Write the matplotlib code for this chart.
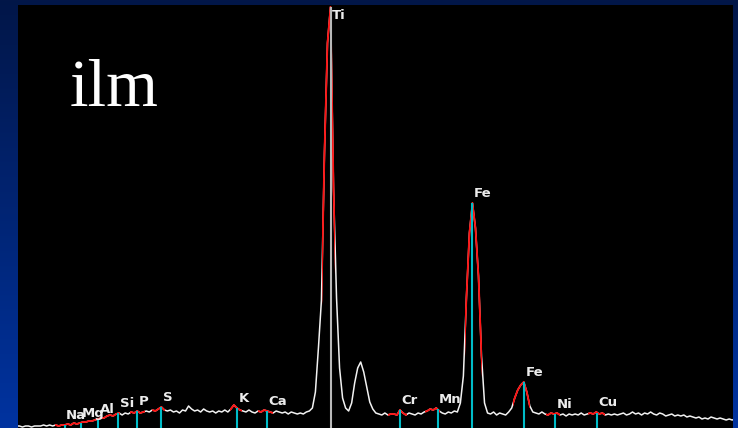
import numpy as np
import matplotlib
matplotlib.use("Agg")
import matplotlib.pyplot as plt
from matplotlib.patches import Rectangle

# EDS spectrum of ilmenite, energy (keV) vs counts (arbitrary units)
energy = np.linspace(0.35, 9.87, 239)
counts = np.array([
    2, 2, 1, 2, 2, 1, 2, 2, 2, 3, 2, 3, 2, 3, 2, 3, 3, 4, 3, 5, 4, 5, 6, 6, 7,
    7, 8, 9, 10, 10, 12, 13, 12, 14, 15, 13, 15, 14, 16, 15, 17, 15, 16, 17, 16, 18, 17, 19, 21, 18,
    17, 18, 16, 17, 15, 18, 17, 22, 19, 17, 18, 16, 19, 17, 16, 17, 15, 17, 16, 18, 16, 19, 23, 20, 18,
    17, 16, 18, 16, 15, 17, 16, 18, 17, 16, 15, 17, 16, 15, 16, 14, 16, 15, 14, 15, 14, 16, 17, 20, 36,
    80, 128, 275, 385, 421, 240, 130, 60, 30, 20, 17, 25, 45, 60, 66, 56, 41, 26, 19, 15, 14, 13, 15, 13, 14,
    14, 13, 18, 15, 13, 15, 14, 13, 15, 14, 16, 17, 19, 18, 20, 17, 15, 14, 16, 15, 17, 16, 25, 52, 130,
    195, 225, 200, 152, 72, 25, 15, 14, 16, 13, 15, 14, 13, 16, 20, 30, 38, 43, 46, 36, 22, 16, 15, 14, 16,
    14, 13, 15, 14, 15, 13, 14, 12, 14, 13, 14, 13, 15, 13, 14, 15, 14, 16, 14, 15, 13, 14, 13, 14, 13,
    14, 15, 13, 14, 16, 14, 15, 13, 15, 14, 16, 14, 13, 15, 14, 12, 13, 14, 12, 13, 12, 13, 11, 12, 11,
    10, 11, 9, 10, 9, 11, 10, 9, 10, 9, 8, 9, 8, 9,
])

# element line markers
elements = ["Na", "Mg", "Al", "Si", "P", "S", "K", "Ca", "Ti", "Cr", "Mn", "Fe", "Fe", "Ni", "Cu"]
line_kev = [0.99, 1.20, 1.43, 1.70, 1.95, 2.27, 3.27, 3.67, 4.51, 5.43, 5.93, 6.39, 7.07, 7.48, 8.04]

# ROI windows drawn in red (keV)
roi_lo = [0.86, 1.85, 2.15, 3.18, 3.55, 4.40, 5.27, 5.76, 6.29, 6.93, 7.36, 7.92]
roi_hi = [1.72, 2.05, 2.32, 3.34, 3.75, 4.57, 5.52, 5.96, 6.52, 7.15, 7.55, 8.15]

fig = plt.figure(figsize=(7.38, 4.28), dpi=100)

# blue gradient background
bg = fig.add_axes([0, 0, 1, 1])
top = np.array([2, 22, 72]) / 255
bot = np.array([0, 51, 160]) / 255
t = np.linspace(0, 1, 256)[:, None]
grad = top[None, :] * (1 - t) + bot[None, :] * t
bg.imshow(grad[:, None, :], aspect="auto", extent=[0, 1, 0, 1])
bg.axis("off")

ax = fig.add_axes([18 / 738, 0, 715 / 738, 423 / 428])
ax.set_facecolor("black")
ax.set_xlim(0.371, 9.841)
ax.set_ylim(0, 423)
ax.set_xticks([])
ax.set_yticks([])
for s in ax.spines.values():
    s.set_visible(False)

ax.plot(energy, counts, color="#f2f2f2", lw=1.1, zorder=2)

for lo, hi in zip(roi_lo, roi_hi):
    ln, = ax.plot(energy, counts, color="#ff1010", lw=1.3, zorder=3)
    ln.set_clip_path(Rectangle((lo, 0), hi - lo, 500, transform=ax.transData))

for name, e in zip(elements, line_kev):
    h = np.interp(e, energy, counts)
    col = "#b8b8b8" if name == "Ti" else "#00bcc8"
    ax.vlines(e, 0, h, colors=col, lw=1.5, zorder=4)
    ax.text(e + 0.02, min(h + 6, 409), name, color="#ececec", fontsize=9.5,
            fontweight="bold", family="DejaVu Sans", ha="left", va="baseline", zorder=5)

ax.text(0.0727, 0.761, "ilm", transform=ax.transAxes, color="white",
        fontsize=48, family="Liberation Serif", ha="left", va="baseline")

fig.savefig("out.png", dpi=100, facecolor=fig.get_facecolor())
